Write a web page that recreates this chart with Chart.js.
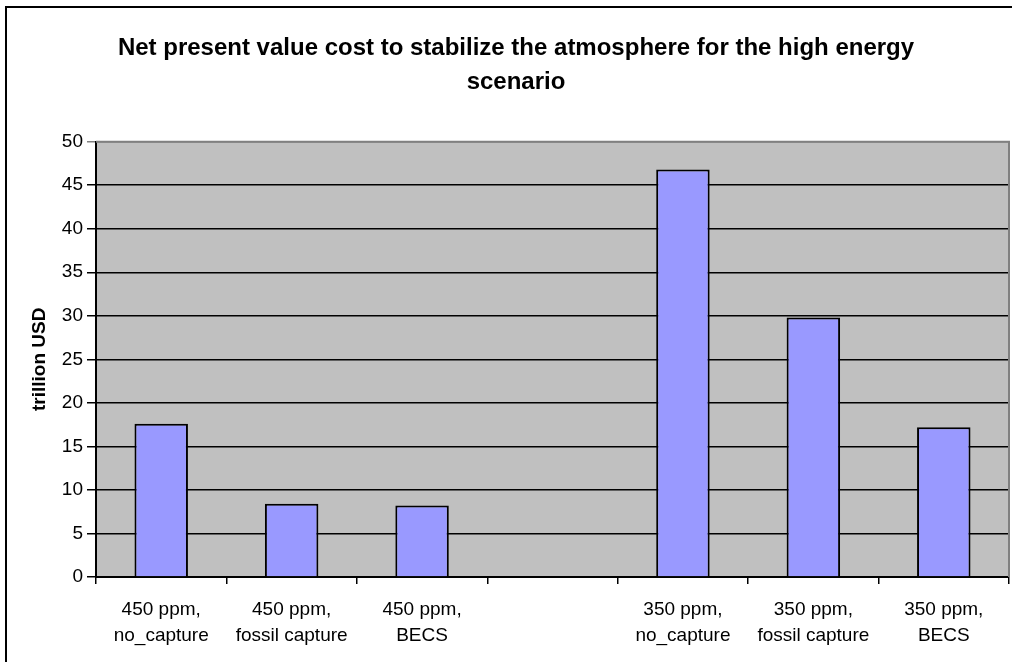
<!DOCTYPE html>
<html>
<head>
<meta charset="utf-8">
<script src="https://cdn.jsdelivr.net/npm/chart.js@4/dist/chart.umd.min.js"></script>
<style>
  html, body { margin: 0; padding: 0; background: #fff; }
  #wrap { width: 1012px; height: 662px; position: relative; }
</style>
</head>
<body>
<div id="wrap"><canvas id="c" width="1012" height="662"></canvas></div>
<script>
const titleLines = ['Net present value cost to stabilize the atmosphere for the high energy', 'scenario'];
const categories = [
  ['450 ppm,', 'no_capture'],
  ['450 ppm,', 'fossil capture'],
  ['450 ppm,', 'BECS'],
  '',
  ['350 ppm,', 'no_capture'],
  ['350 ppm,', 'fossil capture'],
  ['350 ppm,', 'BECS']
];
const costValues = [17.6, 8.4, 8.2, null, 46.8, 29.8, 17.2];
const yAxisTitle = 'trillion USD';
const yMin = 0, yMax = 50, yStep = 5;

const FONT = "'Liberation Sans', Arial, sans-serif";

const decor = {
  id: 'decor',
  beforeDraw(chart) {
    const {ctx, chartArea: a} = chart;
    ctx.save();
    ctx.fillStyle = '#fff';
    ctx.fillRect(0, 0, chart.width, chart.height);
    ctx.strokeStyle = '#000';
    ctx.lineWidth = 2;
    ctx.strokeRect(6, 7, 1200, 800);
    ctx.fillStyle = '#C0C0C0';
    ctx.fillRect(a.left, a.top, a.right - a.left, a.bottom - a.top);
    ctx.restore();
  },
  afterDatasetsDraw(chart) {
    const {ctx, chartArea: a} = chart;
    ctx.save();
    ctx.strokeStyle = '#808080';
    ctx.lineWidth = 2;
    ctx.beginPath();
    ctx.moveTo(a.left, a.top);
    ctx.lineTo(a.right, a.top);
    ctx.lineTo(a.right, a.bottom);
    ctx.stroke();
    ctx.restore();
  }
};

new Chart(document.getElementById('c'), {
  type: 'bar',
  data: {
    labels: categories,
    datasets: [{
      data: costValues,
      backgroundColor: '#9999FF',
      borderColor: '#000',
      borderWidth: 2,
      barPercentage: 0.41,
      categoryPercentage: 1.0
    }]
  },
  options: {
    responsive: false,
    animation: false,
    devicePixelRatio: 1,
    layout: { padding: { left: 23, right: 3, top: 0, bottom: 0 } },
    plugins: {
      legend: { display: false },
      tooltip: { enabled: false },
      title: {
        display: true,
        text: titleLines,
        color: '#000',
        font: { family: FONT, size: 24, weight: 'bold', lineHeight: 1.42 },
        padding: { top: 31, bottom: 42.5 }
      }
    },
    scales: {
      x: {
        grid: {
          offset: true,
          drawOnChartArea: false,
          drawTicks: true,
          tickLength: 7,
          color: '#000',
          lineWidth: 1.5
        },
        border: { color: '#000', width: 2 },
        ticks: {
          autoSkip: false,
          maxRotation: 0,
          minRotation: 0,
          padding: 13,
          color: '#000',
          font: { family: FONT, size: 19, lineHeight: 1.35 }
        },
        afterFit(scale) { scale.height = 85; }
      },
      y: {
        min: yMin,
        max: yMax,
        grid: {
          color: (c) => (c.tick && c.tick.value === yMax ? '#808080' : '#000'),
          lineWidth: 1.5,
          tickLength: 9
        },
        border: { color: '#000', width: 2 },
        ticks: {
          stepSize: yStep,
          padding: 4,
          color: '#000',
          font: { family: FONT, size: 19 }
        },
        title: {
          display: true,
          text: yAxisTitle,
          color: '#000',
          font: { family: FONT, size: 19, weight: 'bold', lineHeight: 1.2 },
          padding: { top: 5, bottom: 0 }
        },
        afterFit(scale) { scale.width = 73; }
      }
    }
  },
  plugins: [decor]
});
</script>
</body>
</html>
